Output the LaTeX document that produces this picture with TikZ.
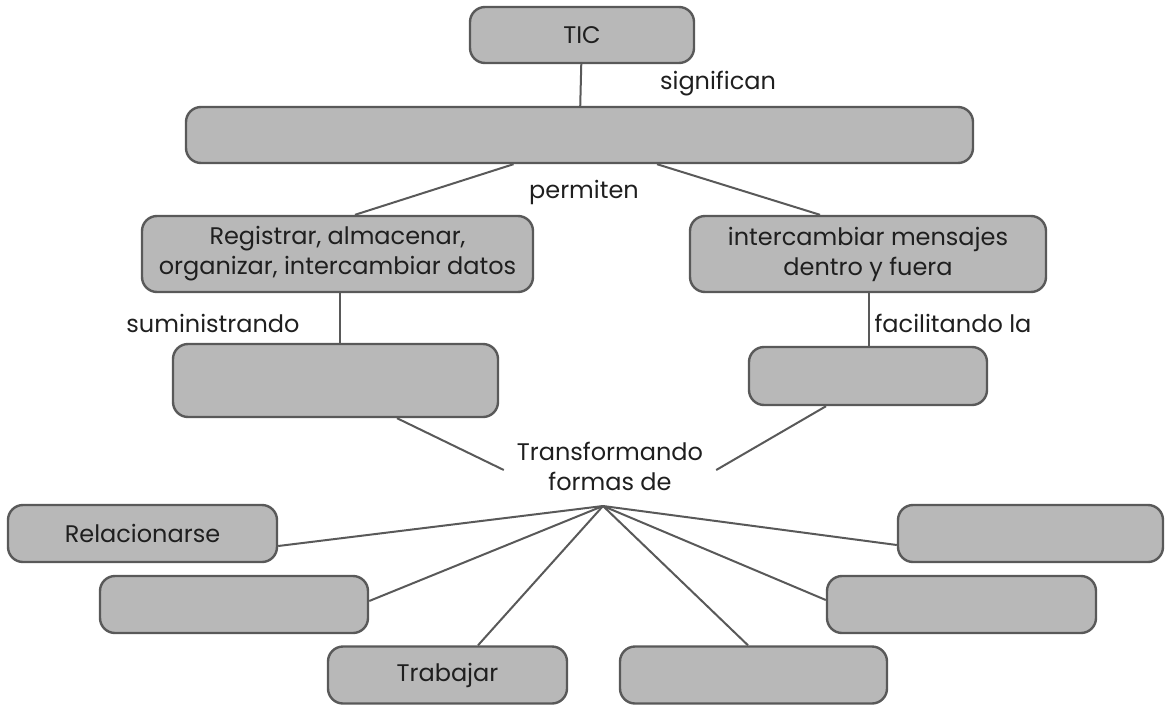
\documentclass[tikz,border=0pt]{standalone}
\usepackage{fontspec}
\setmainfont{Poppins}
\usepackage{tikz}

\begin{document}
\begin{tikzpicture}[x=1pt,y=-1pt,
    caja/.style={draw=black!65,line width=2.4pt,fill=black!28,rounded corners=15pt,
        inner sep=0pt,align=center,font=\fontsize{24}{30}\selectfont,text=black!88},
    enlace/.style={draw=black!65,line width=2pt},
    rotulo/.style={inner sep=2pt,align=center,font=\fontsize{24}{30}\selectfont,text=black!88}
]
    \useasboundingbox (0,0) rectangle (1166,704);
    % niveles superiores
    \node[caja,minimum width=224pt,minimum height=56pt] (tic) at (582,35) {TIC};
    \node[caja,minimum width=787pt,minimum height=56pt] (sig) at (579.5,135) {};
    \node[caja,minimum width=391pt,minimum height=76pt] (reg) at (337.5,254)
        {Registrar, almacenar,\\organizar, intercambiar datos};
    \node[caja,minimum width=356pt,minimum height=76pt] (inter) at (868,254)
        {intercambiar mensajes\\dentro y fuera};
    \node[caja,minimum width=325pt,minimum height=73pt] (sum) at (335.5,380.5) {};
    \node[caja,minimum width=238pt,minimum height=58pt] (fac) at (868,376) {};
    % formas
    \node[caja,minimum width=269pt,minimum height=57pt] (rel) at (142.5,533.5) {Relacionarse};
    \node[caja,minimum width=268pt,minimum height=57pt] (izqb) at (234,604.5) {};
    \node[caja,minimum width=239pt,minimum height=57pt] (trab) at (447.5,675) {Trabajar};
    \node[caja,minimum width=267pt,minimum height=57pt] (abajo) at (753.5,675) {};
    \node[caja,minimum width=269pt,minimum height=57pt] (derb) at (961.5,604.5) {};
    \node[caja,minimum width=265pt,minimum height=57pt] (dera) at (1030.5,533.5) {};
    % rotulos
    \node[rotulo] (lsig) at (718,84) {significan};
    \node[rotulo] (lper) at (584,192) {permiten};
    \node[rotulo] (lsum) at (213,323) {suministrando};
    \node[rotulo] (lfac) at (953,323) {facilitando la};
    \node[rotulo,minimum width=212pt] (trans) at (610,466) {Transformando\\formas de};
    \coordinate (hub) at (603,506);
    % enlaces
    \draw[enlace] (tic) -- (sig);
    \draw[enlace] ([xshift=-66pt]sig.south) -- ([xshift=17.5pt]reg.north);
    \draw[enlace] ([xshift=77.5pt]sig.south) -- ([xshift=-48pt]inter.north);
    \draw[enlace] ([xshift=2.5pt]reg.south) -- ([xshift=4.5pt]sum.north);
    \draw[enlace] ([xshift=1pt]inter.south) -- ([xshift=1pt]fac.north);
    \draw[enlace] ([xshift=61.5pt]sum.south) -- ([yshift=-4pt]trans.west);
    \draw[enlace] ([xshift=-42pt]fac.south) -- ([yshift=-4pt]trans.east);
    \draw[enlace] (hub) -- ([yshift=-12.5pt]rel.east);
    \draw[enlace] (hub) -- ([yshift=3.5pt]izqb.east);
    \draw[enlace] (hub) -- ([xshift=30.5pt]trab.north);
    \draw[enlace] (hub) -- ([xshift=-5.5pt]abajo.north);
    \draw[enlace] (hub) -- ([yshift=4.5pt]derb.west);
    \draw[enlace] (hub) -- ([yshift=-11.5pt]dera.west);
\end{tikzpicture}
\end{document}
